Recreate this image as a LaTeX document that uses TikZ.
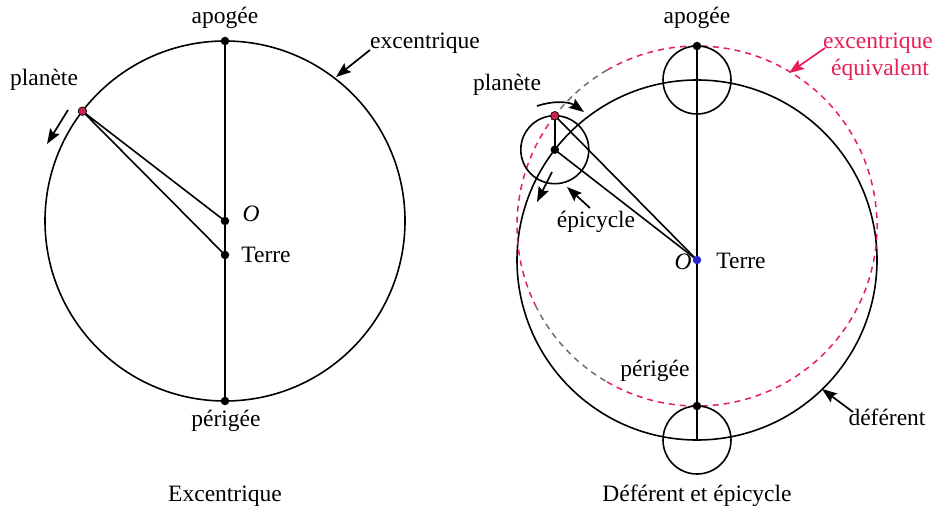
\documentclass[tikz,border=0pt]{standalone}
\usepackage{fontspec}
\setmainfont{Liberation Serif}
\newfontfamily\tnrfont{Liberation Serif}
\usetikzlibrary{arrows.meta,calc}
\definecolor{eqred}{RGB}{232,30,88}
\definecolor{terreblue}{RGB}{40,40,210}
\definecolor{dashgray}{RGB}{110,110,120}
\definecolor{planetred}{RGB}{200,40,80}
\begin{document}
\begin{tikzpicture}[x=1pt,y=-1pt,line width=1.6pt,
  font=\tnrfont\fontsize{23.5}{27}\selectfont,
  lbl/.style={inner sep=0pt},
  dot/.style={circle,fill=black,inner sep=0pt,minimum size=8.5pt},
  pdot/.style={circle,draw=black,line width=0.7pt,fill=planetred,inner sep=0pt,minimum size=8.5pt},
  tdot/.style={circle,fill=terreblue,inner sep=0pt,minimum size=8.5pt},
  arr/.style={line width=1.7pt,-{Stealth[length=15pt,width=11pt,inset=2.5pt]}},
  eqdash/.style={line width=1.5pt,dash pattern=on 6pt off 5pt}]
\useasboundingbox (0,0) rectangle (950,516);

% ---------------- Left: Excentrique ----------------
\coordinate (LO) at (225,221);
\draw (LO) circle[radius=180];
\coordinate (LP) at ($(LO)+(-142.6,-109.8)$);
\node[dot] (Lapo) at (225,41) {};
\node[dot] (Lper) at (225,401) {};
\node[dot] (LOd) at (LO) {};
\node[dot] (LT) at (225,255) {};
\draw (Lapo.center) -- (Lper.center);
\draw (LP) -- (LOd.center);
\draw (LP) -- (LT.center);
\node[pdot] (Lplan) at (LP) {};

\node[lbl] (tLapo) at (225,18) {apogée};
\node[lbl] (tLplan) at (44,80) {planète};
\node[lbl] (tLO) at (251,214) {\itshape O};
\node[lbl] (tLT) at (266,255) {Terre};
\node[lbl] (tLper) at (226,421) {périgée};
\node[lbl] (tLexc) at (425,43) {excentrique};
\node[lbl] (tLcap) at (225,496) {Excentrique};

\coordinate (La1) at (68,110);
\coordinate (La2) at (47,144);
\draw[arr] (La1) -- (La2);
\coordinate (Lb1) at (370,50);
\coordinate (Lb2) at (336,77);
\draw[arr] (Lb1) -- (Lb2);

% ---------------- Right: Deferent et epicycle ----------------
\coordinate (RT) at (697,260);
\coordinate (RE) at (697,226);
% deferent
\draw (RT) circle[radius=180];
% equivalent eccentric (dashed)
\draw[eqred,eqdash] ([shift={(-240:180)}]RE) arc[start angle=-240,end angle=-480,radius=180];
\draw[dashgray,eqdash] ([shift={(-120:180)}]RE) arc[start angle=-120,end angle=-142,radius=180];
\draw[eqred,eqdash] ([shift={(-142:180)}]RE) arc[start angle=-142,end angle=-206,radius=180];
\draw[dashgray,eqdash] ([shift={(-206:180)}]RE) arc[start angle=-206,end angle=-240,radius=180];

% epicycles
\coordinate (Rtop) at (697,80);
\coordinate (Rbot) at (697,440);
\draw (Rtop) circle[radius=34];
\draw (Rbot) circle[radius=34];
\coordinate (Rc) at ($(RT)+(-142.2,-110.3)$);
\draw (Rc) circle[radius=34];
\coordinate (RP) at ($(Rc)+(0,-34)$);

\node[dot] (Rapo) at (697,46) {};
\node[dot] (Rper) at (697,406) {};
\draw (Rapo.center) -- (Rbot);
\node[dot] (Rcd) at (Rc) {};
\draw (RP) -- (Rcd.center);
\draw (RP) -- (RT);
\draw (Rcd.center) -- (RT);
\node[pdot] (Rplan) at (RP) {};
\node[tdot] (RTd) at (RT) {};

\node[lbl] (tRapo) at (697,18) {apogée};
\node[lbl] (tRplan) at (507,85) {planète};
\node[lbl,text=eqred] (tRexc) at (878,43) {excentrique};
\node[lbl,text=eqred] (tReq) at (880,70) {équivalent};
\node[lbl] (tRepi) at (596,222) {épicycle};
\node[lbl] (tRO) at (683,262) {\itshape O};
\node[lbl] (tRT) at (741,261) {Terre};
\node[lbl] (tRper) at (655,371) {périgée};
\node[lbl] (tRdef) at (887,417) {déférent};
\node[lbl] (tRcap) at (697,496) {Déférent et épicycle};

\coordinate (Ra1) at (537,106);
\coordinate (Ra2) at (584,112);
\draw[arr] (Ra1) .. controls (555,100) and (570,102) .. (Ra2);
\coordinate (Rb1) at (552,172);
\coordinate (Rb2) at (537,202);
\draw[arr] (Rb1) -- (Rb2);
\coordinate (Rc1) at (590,208);
\coordinate (Rc2) at (567,187);
\draw[arr] (Rc1) -- (Rc2);
\coordinate (Rd1) at (825,48);
\coordinate (Rd2) at (789,73);
\draw[arr,eqred] (Rd1) -- (Rd2);
\coordinate (Re1) at (853,412);
\coordinate (Re2) at (822,389);
\draw[arr] (Re1) -- (Re2);
\end{tikzpicture}
\end{document}
